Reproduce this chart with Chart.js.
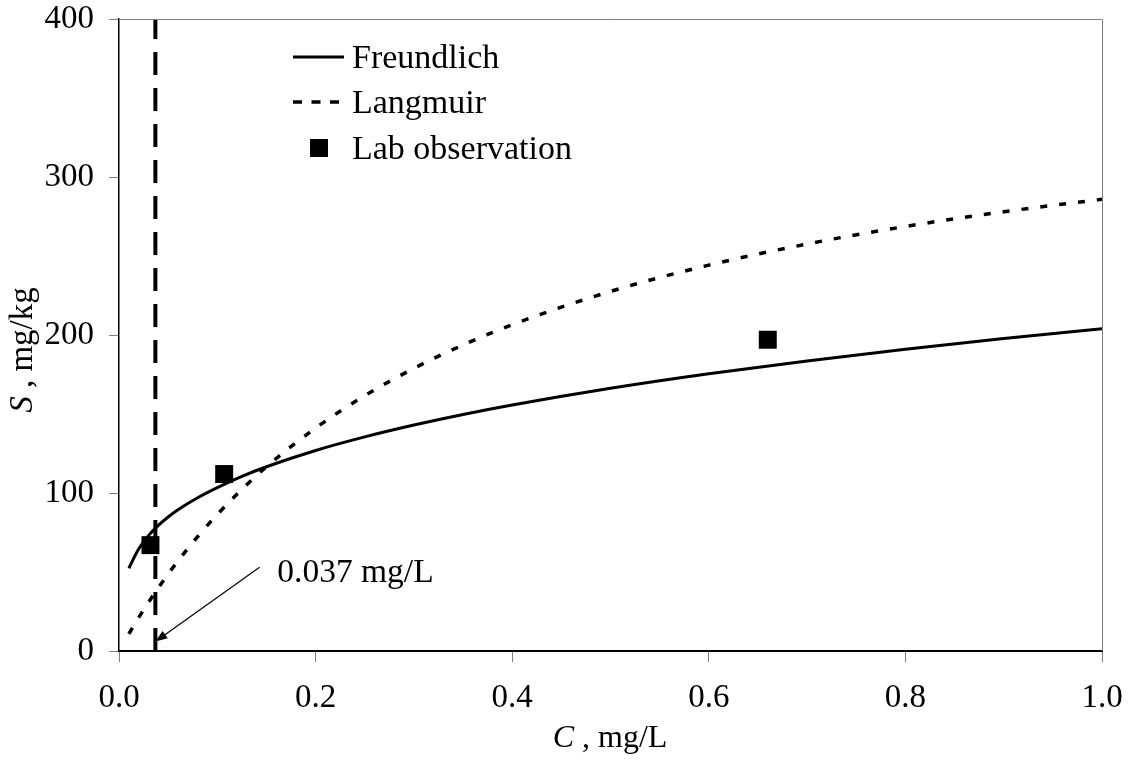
<!DOCTYPE html>
<html>
<head>
<meta charset="utf-8">
<script src="https://cdn.jsdelivr.net/npm/chart.js@4.4.0/dist/chart.umd.min.js"></script>
<style>
  html, body { margin: 0; padding: 0; background: #fff; }
  #wrap { width: 1136px; height: 761px; }
</style>
</head>
<body>
<div id="wrap"><canvas id="c" width="1136" height="761"></canvas></div>
<script>
// ---- Data ----
const curveC = [0.01, 0.02, 0.03, 0.04, 0.05, 0.06, 0.08, 0.1, 0.125, 0.15, 0.2, 0.25, 0.3, 0.35, 0.4, 0.5, 0.6, 0.7, 0.8, 0.9, 1.0];
const freundlichS = [52.4, 64.5, 73.0, 79.5, 84.8, 89.4, 97.0, 103.4, 110.5, 116.6, 126.9, 135.5, 143.0, 149.7, 155.7, 166.3, 175.5, 183.6, 191.0, 197.8, 204.0];
const langmuirS = [10.8, 21.1, 30.8, 40.0, 48.7, 57.0, 72.4, 86.4, 102.3, 116.6, 141.1, 161.6, 178.9, 193.7, 206.5, 227.6, 244.2, 257.6, 268.7, 278.0, 285.9];
const labC = [0.032, 0.107, 0.66];
const labS = [67, 112, 197];
const thresholdC = [0.037, 0.037];
const thresholdS = [0, 400];
const seriesLabels = ["Freundlich", "Langmuir", "Lab observation"];
const xTicks = [0, 0.2, 0.4, 0.6, 0.8, 1.0];
const yTicks = [0, 100, 200, 300, 400];
const annotationText = "0.037 mg/L";
const arrowTail = [0.143, 53];
const arrowTip = [0.037, 6];
const annotationAt = [0.161, 49];

const SERIF = '"Liberation Serif", "Times New Roman", serif';

function pts(xs, ys) { return xs.map((x, i) => ({ x: x, y: ys[i] })); }

const overlay = {
  id: 'overlay',
  afterDraw(chart) {
    const ctx = chart.ctx;
    const a = chart.chartArea;
    const xs = chart.scales.x, ys = chart.scales.y;
    ctx.save();
    // frame top/right
    ctx.strokeStyle = '#808080';
    ctx.lineWidth = 1;
    ctx.beginPath();
    ctx.moveTo(a.left, a.top + 0.5);
    ctx.lineTo(a.right + 0.5, a.top + 0.5);
    ctx.lineTo(a.right + 0.5, a.bottom);
    ctx.stroke();

    // legend
    ctx.fillStyle = '#000';
    ctx.strokeStyle = '#000';
    ctx.font = '34px ' + SERIF;
    ctx.textBaseline = 'alphabetic';
    ctx.textAlign = 'left';
    const lx0 = 293, lx1 = 344, tx = 352;
    const rows = [57, 102, 148];
    const bases = [68, 113, 159];
    ctx.lineWidth = 3;
    ctx.setLineDash([]);
    ctx.beginPath(); ctx.moveTo(lx0, rows[0]); ctx.lineTo(lx1, rows[0]); ctx.stroke();
    ctx.lineWidth = 3.5;
    ctx.setLineDash([9, 9.5]);
    ctx.beginPath(); ctx.moveTo(lx0, rows[1]); ctx.lineTo(lx1, rows[1]); ctx.stroke();
    ctx.setLineDash([]);
    ctx.fillRect(310, rows[2] - 9, 18, 18);
    seriesLabels.forEach((t, i) => ctx.fillText(t, tx, bases[i]));

    // annotation arrow
    const tailX = xs.getPixelForValue(arrowTail[0]), tailY = ys.getPixelForValue(arrowTail[1]);
    const tipX = xs.getPixelForValue(arrowTip[0]), tipY = ys.getPixelForValue(arrowTip[1]);
    const ang = Math.atan2(tipY - tailY, tipX - tailX);
    const headLen = 12, headW = 4.5;
    ctx.lineWidth = 1.2;
    ctx.beginPath();
    ctx.moveTo(tailX, tailY);
    ctx.lineTo(tipX - Math.cos(ang) * headLen * 0.8, tipY - Math.sin(ang) * headLen * 0.8);
    ctx.stroke();
    ctx.beginPath();
    ctx.moveTo(tipX, tipY);
    ctx.lineTo(tipX - Math.cos(ang) * headLen + Math.sin(ang) * headW, tipY - Math.sin(ang) * headLen - Math.cos(ang) * headW);
    ctx.lineTo(tipX - Math.cos(ang) * headLen - Math.sin(ang) * headW, tipY - Math.sin(ang) * headLen + Math.cos(ang) * headW);
    ctx.closePath();
    ctx.fill();
    ctx.font = '33.5px ' + SERIF;
    ctx.textBaseline = 'middle';
    ctx.fillText(annotationText, xs.getPixelForValue(annotationAt[0]), ys.getPixelForValue(annotationAt[1]));

    // axis titles
    ctx.textBaseline = 'alphabetic';
    const italic = 'italic 32px ' + SERIF, normal = '32px ' + SERIF;
    ctx.font = italic; const wC = ctx.measureText('C').width;
    ctx.font = normal; const wR = ctx.measureText(' , mg/L').width;
    let sx = 610 - (wC + wR) / 2;
    ctx.font = italic; ctx.fillText('C', sx, 747);
    ctx.font = normal; ctx.fillText(' , mg/L', sx + wC, 747);
    ctx.save();
    ctx.translate(32, 350);
    ctx.rotate(-Math.PI / 2);
    ctx.font = 'italic 33px ' + SERIF; const wS = ctx.measureText('S').width;
    ctx.font = '33px ' + SERIF; const wR2 = ctx.measureText(' , mg/kg').width;
    let sy = -(wS + wR2) / 2;
    ctx.font = 'italic 33px ' + SERIF; ctx.fillText('S', sy, 0);
    ctx.font = '33px ' + SERIF; ctx.fillText(' , mg/kg', sy + wS, 0);
    ctx.restore();

    ctx.restore();
  }
};

new Chart(document.getElementById('c'), {
  type: 'line',
  data: {
    datasets: [
      {
        label: seriesLabels[0],
        data: pts(curveC, freundlichS),
        borderColor: '#000', backgroundColor: '#000',
        borderWidth: 3, pointRadius: 0, fill: false,
        cubicInterpolationMode: 'monotone'
      },
      {
        label: seriesLabels[1],
        data: pts(curveC, langmuirS),
        borderColor: '#000', backgroundColor: '#000',
        borderWidth: 3.5, borderDash: [7, 12], pointRadius: 0, fill: false,
        cubicInterpolationMode: 'monotone'
      },
      {
        label: seriesLabels[2],
        data: pts(labC, labS),
        showLine: false,
        pointStyle: 'rect', pointRadius: 12.7, pointHoverRadius: 12.7,
        pointBackgroundColor: '#000', pointBorderColor: '#000', pointBorderWidth: 0
      },
      {
        label: 'threshold',
        data: pts(thresholdC, thresholdS),
        borderColor: '#000', borderWidth: 4, borderDash: [23, 13],
        pointRadius: 0, fill: false
      }
    ]
  },
  options: {
    responsive: false,
    animation: false,
    events: [],
    layout: { padding: { top: 19, right: 34, left: 0, bottom: 0 } },
    plugins: { legend: { display: false }, tooltip: { enabled: false } },
    scales: {
      x: {
        type: 'linear', min: 0, max: 1,
        afterFit(s) { s.height = 110; s.paddingLeft = 0; s.paddingRight = 0; },
        afterBuildTicks(s) { s.ticks = xTicks.map(v => ({ value: v })); },
        ticks: {
          callback: v => Number(v).toFixed(1),
          font: { family: SERIF, size: 33 }, color: '#000', padding: 17, maxRotation: 0
        },
        grid: { drawOnChartArea: false, drawTicks: true, tickLength: 11, color: '#808080', lineWidth: 1 },
        border: { display: true, color: '#000', width: 2 }
      },
      y: {
        type: 'linear', min: 0, max: 400,
        afterFit(s) { s.width = 119; s.paddingTop = 0; s.paddingBottom = 0; },
        afterBuildTicks(s) { s.ticks = yTicks.map(v => ({ value: v })); },
        ticks: {
          font: { family: SERIF, size: 33 }, color: '#000', padding: 15
        },
        grid: { drawOnChartArea: false, drawTicks: true, tickLength: 10, color: '#808080', lineWidth: 1 },
        border: { display: true, color: '#000', width: 1.5 }
      }
    }
  },
  plugins: [overlay]
});
</script>
</body>
</html>
